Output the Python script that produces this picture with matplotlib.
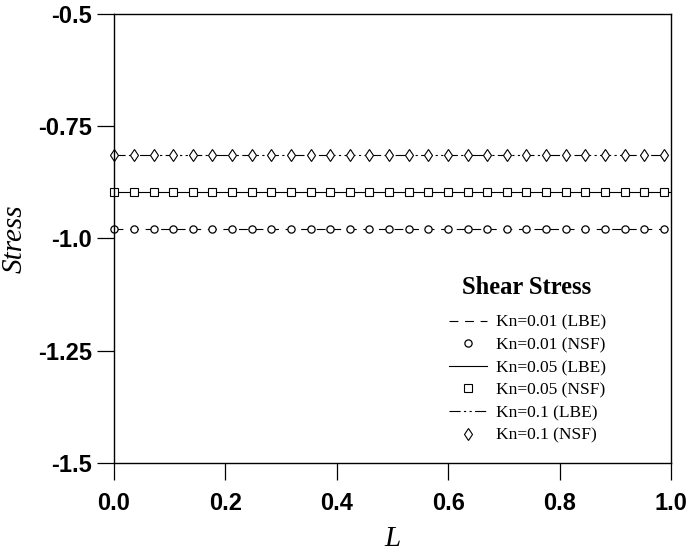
import matplotlib
matplotlib.use("Agg")
import matplotlib.pyplot as plt

# ---- data ----
x_line = [0.0, 1.0]
x_nsf = [0.0, 0.035, 0.071, 0.106, 0.141, 0.176, 0.212, 0.247, 0.282, 0.317,
         0.353, 0.388, 0.423, 0.458, 0.494, 0.529, 0.564, 0.599, 0.635, 0.670,
         0.705, 0.740, 0.776, 0.811, 0.846, 0.881, 0.917, 0.952, 0.987]
stress_kn001 = -0.978
stress_kn005 = -0.897
stress_kn01 = -0.813

labels = ["Kn=0.01 (LBE)", "Kn=0.01 (NSF)", "Kn=0.05 (LBE)",
          "Kn=0.05 (NSF)", "Kn=0.1 (LBE)", "Kn=0.1 (NSF)"]
legend_title = "Shear Stress"
xticks = [0.0, 0.2, 0.4, 0.6, 0.8, 1.0]
xtick_labels = ["0.0", "0.2", "0.4", "0.6", "0.8", "1.0"]
yticks = [-0.5, -0.75, -1.0, -1.25, -1.5]
ytick_labels = ["-0.5", "-0.75", "-1.0", "-1.25", "-1.5"]

fig = plt.figure(figsize=(6.89, 5.54), dpi=100)
ax = fig.add_axes([0.1655, 0.1643, 0.8085, 0.8104])

lw = 0.8
ax.plot(x_line, [stress_kn001] * len(x_line), color="black", lw=lw,
        linestyle=(0, (8, 6)), label=labels[0])
ax.plot(x_nsf, [stress_kn001] * len(x_nsf), linestyle="none", marker="o",
        ms=5.2, mfc="white", mec="black", mew=0.9, label=labels[1], clip_on=False)
ax.plot(x_line, [stress_kn005] * len(x_line), color="black", lw=lw,
        linestyle="-", label=labels[2])
ax.plot(x_nsf, [stress_kn005] * len(x_nsf), linestyle="none", marker="s",
        ms=5.8, mfc="white", mec="black", mew=0.8, label=labels[3], clip_on=False)
ax.plot(x_line, [stress_kn01] * len(x_line), color="black", lw=lw,
        linestyle=(0, (10, 3, 2, 3, 2, 3)), label=labels[4])
ax.plot(x_nsf, [stress_kn01] * len(x_nsf), linestyle="none", marker="d",
        ms=6.2, mfc="white", mec="black", mew=0.8, label=labels[5], clip_on=False)

ax.set_xlim(0.0, 1.0)
ax.set_ylim(-1.5, -0.5)
ax.set_xticks(xticks)
ax.set_xticklabels(xtick_labels)
ax.set_yticks(yticks)
ax.set_yticklabels(ytick_labels)

for lab in ax.get_xticklabels() + ax.get_yticklabels():
    lab.set_fontfamily("Liberation Sans")
    lab.set_fontweight("bold")
    lab.set_fontsize(17)

ax.tick_params(direction="out", length=12, width=0.9, color="black")
ax.tick_params(axis="y", pad=4)
ax.tick_params(axis="x", pad=9)
for s in ax.spines.values():
    s.set_linewidth(1.0)
    s.set_color("black")

ax.set_xlabel("L", fontfamily="Liberation Serif", fontstyle="italic",
              fontsize=21, labelpad=8)
ax.set_ylabel("Stress", fontfamily="Liberation Serif", fontstyle="italic",
              fontsize=21, labelpad=7)

leg = ax.legend(loc="upper left", bbox_to_anchor=(0.634, 0.454),
                bbox_transform=fig.transFigure, frameon=False,
                prop={"family": "Liberation Serif", "size": 12.5},
                numpoints=1, handlelength=2.2, handletextpad=0.5,
                labelspacing=0.37, borderpad=0.2)
fig.text(527 / 689, 1 - 288 / 554, legend_title, ha="center", va="center",
         fontfamily="Liberation Serif", fontweight="bold", fontsize=17.7)

fig.savefig("out.png", dpi=100)
